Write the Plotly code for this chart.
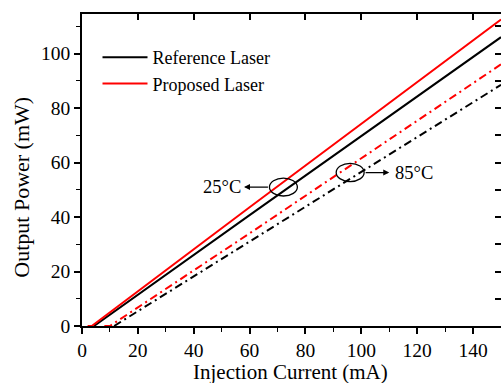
import plotly.graph_objects as go

# Data
ref25_x = [4.3, 60, 150]
ref25_y = [0, 40.7, 106]
pro25_x = [2.0, 3.5, 60, 150]
pro25_y = [0, 0, 43.6, 112.5]
ref85_x = [11.5, 60, 150]
ref85_y = [0, 31, 88.5]
pro85_x = [8.0, 10, 60, 150]
pro85_y = [0, 0, 34, 96]

x_ticks = [0, 20, 40, 60, 80, 100, 120, 140]
y_ticks = [0, 20, 40, 60, 80, 100]

FONT = "Liberation Serif"
BLACK = "#000000"
RED = "#ff0000"
DASHDOT = "8px,4px,2px,4px"

fig = go.Figure()
fig.add_trace(go.Scatter(x=ref25_x, y=ref25_y, mode="lines", name="Reference Laser",
                         line=dict(color=BLACK, width=2), legendgroup="ref"))
fig.add_trace(go.Scatter(x=pro25_x, y=pro25_y, mode="lines", name="Proposed Laser",
                         line=dict(color=RED, width=2), legendgroup="pro"))
fig.add_trace(go.Scatter(x=ref85_x, y=ref85_y, mode="lines", name="Reference Laser 85",
                         line=dict(color=BLACK, width=2, dash=DASHDOT), showlegend=False))
fig.add_trace(go.Scatter(x=pro85_x, y=pro85_y, mode="lines", name="Proposed Laser 85",
                         line=dict(color=RED, width=2, dash=DASHDOT), showlegend=False))
# empty trace to activate the mirrored top/right axes
fig.add_trace(go.Scatter(x=[], y=[], xaxis="x2", yaxis="y2", showlegend=False, hoverinfo="skip"))

XR = [0, 150]
YR = [0, 114.5]
tickfont = dict(family=FONT, size=19.5, color=BLACK)

fig.update_layout(
    width=501, height=383,
    margin=dict(l=82, r=0, t=14, b=57),
    paper_bgcolor="white", plot_bgcolor="white",
    font=dict(family=FONT, color=BLACK),
    xaxis=dict(range=XR, tickvals=x_ticks, ticks="outside", ticklen=6, tickwidth=1.5,
               tickcolor=BLACK, showline=True, linecolor=BLACK, linewidth=1.5,
               showgrid=False, zeroline=False, tickfont=tickfont,
               minor=dict(dtick=10, tick0=0, ticks="outside", ticklen=4, tickwidth=1.2,
                          tickcolor=BLACK, showgrid=False)),
    yaxis=dict(range=YR, tickvals=y_ticks, ticks="outside", ticklen=6, tickwidth=1.5,
               tickcolor=BLACK, showline=True, linecolor=BLACK, linewidth=1.5,
               showgrid=False, zeroline=False, tickfont=tickfont,
               minor=dict(dtick=10, tick0=0, ticks="outside", ticklen=4, tickwidth=1.2,
                          tickcolor=BLACK, showgrid=False)),
    xaxis2=dict(range=XR, overlaying="x", side="top", anchor="y", tickvals=x_ticks,
                ticks="inside", ticklen=6, tickwidth=1.5, tickcolor=BLACK,
                showline=True, linecolor=BLACK, linewidth=1.5,
                showticklabels=False, showgrid=False, zeroline=False),
    yaxis2=dict(range=YR, overlaying="y", side="right", anchor="x", dtick=10, tick0=0,
                ticks="inside", ticklen=6, tickwidth=1.5, tickcolor=BLACK,
                showline=False, showticklabels=False, showgrid=False, zeroline=False),
    legend=dict(x=0.037, y=0.92, xanchor="left", yanchor="top",
                bgcolor="rgba(0,0,0,0)", font=dict(family=FONT, size=18, color=BLACK),
                itemwidth=45, tracegroupgap=0),
    showlegend=True,
)

# Axis titles
fig.add_annotation(text="Injection Current (mA)", xref="paper", yref="paper",
                   x=0.497, y=-0.146, xanchor="center", yanchor="middle", showarrow=False,
                   font=dict(family=FONT, size=21, color=BLACK))
fig.add_annotation(text="Output Power (mW)", xref="paper", yref="paper",
                   x=-0.145, y=0.444, xanchor="center", yanchor="middle", textangle=-90,
                   showarrow=False, font=dict(family=FONT, size=22, color=BLACK))

# Ellipses marking the line groups
fig.add_shape(type="circle", xref="x", yref="y", x0=67.1, x1=77.1, y0=47.7, y1=54.3,
              line=dict(color=BLACK, width=1.3))
fig.add_shape(type="circle", xref="x", yref="y", x0=91.0, x1=101.0, y0=53.0, y1=59.7,
              line=dict(color=BLACK, width=1.3))

# Arrows
fig.add_annotation(x=58.0, y=51.0, ax=67.1, ay=51.0, xref="x", yref="y", axref="x", ayref="y",
                   text="", showarrow=True, arrowhead=2, arrowsize=1, arrowwidth=1.2,
                   arrowcolor=BLACK)
fig.add_annotation(x=110.0, y=56.3, ax=101.0, ay=56.3, xref="x", yref="y", axref="x", ayref="y",
                   text="", showarrow=True, arrowhead=2, arrowsize=1, arrowwidth=1.2,
                   arrowcolor=BLACK)
# Temperature labels
fig.add_annotation(text="25°C", x=57.5, y=51.0, xref="x", yref="y", xanchor="right",
                   yanchor="middle", showarrow=False, font=dict(family=FONT, size=18.5, color=BLACK))
fig.add_annotation(text="85°C", x=111.5, y=56.3, xref="x", yref="y", xanchor="left",
                   yanchor="middle", showarrow=False, font=dict(family=FONT, size=18.5, color=BLACK))

fig.write_html("out.html", config={"displayModeBar": False},
               post_script="document.body.style.margin='0';document.body.style.overflow='hidden';")
